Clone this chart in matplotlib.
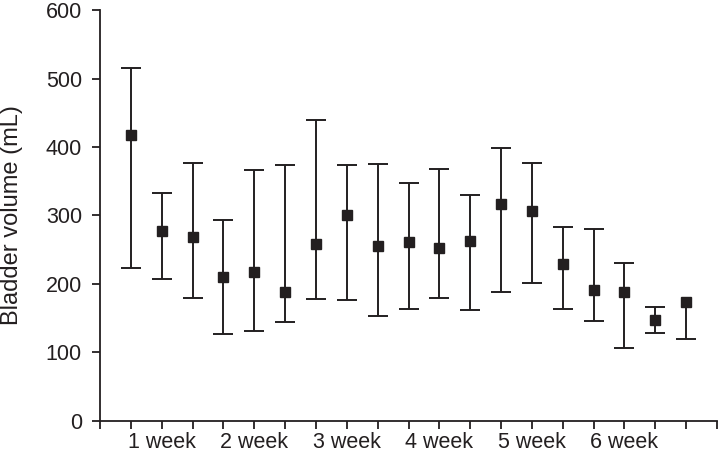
import numpy as np
import matplotlib.pyplot as plt

plt.rcParams['font.family'] = ['Liberation Sans', 'DejaVu Sans']

# bladder volume per measurement (mean, upper and lower whisker ends)
means = [418, 278, 269, 210, 218, 188, 259, 300, 255, 261,
         253, 263, 317, 307, 229, 191, 188, 148, 173]
upper = [515, 333, 377, 294, 367, 374, 440, 373, 375, 347,
         368, 330, 398, 377, 283, 280, 231, 167, 173]
lower = [224, 208, 180, 127, 131, 145, 178, 176, 154, 164,
         180, 162, 189, 202, 163, 146, 107, 128, 120]
week_labels = ['1 week', '2 week', '3 week', '4 week', '5 week', '6 week']
week_pos = [2, 5, 8, 11, 14, 17]

x = np.arange(1, len(means) + 1)
means = np.array(means)
upper = np.array(upper)
lower = np.array(lower)

col = '#231f20'
fig = plt.figure(figsize=(7.18, 4.57), dpi=100)
ax = fig.add_axes([0.1393, 0.0788, 0.8593, 0.8993])

# whiskers, caps (no upper cap where there is no upper whisker), markers
ax.vlines(x, lower, upper, color=col, lw=1.4)
ax.plot(x, lower, '_', color=col, ms=15, mew=1.4)
has_up = upper > means
ax.plot(x[has_up], upper[has_up], '_', color=col, ms=15, mew=1.4)
ax.plot(x, means, 's', color=col, ms=7.3)

ax.set_xlim(0, 20)
ax.set_ylim(0, 600)
ax.set_yticks(range(0, 601, 100))
ticks = list(range(0, 21))
labels = [week_labels[week_pos.index(t)] if t in week_pos else '' for t in ticks]
ax.set_xticks(ticks, labels=labels)
ax.tick_params(axis='x', direction='out', length=6, width=1.3, color=col,
               labelsize=15.5, labelcolor=col, pad=2)
ax.tick_params(axis='y', direction='out', length=6, width=1.3, color=col,
               labelsize=15.5, labelcolor=col, pad=7)

for s in ['top', 'right']:
    ax.spines[s].set_visible(False)
for s in ['left', 'bottom']:
    ax.spines[s].set_linewidth(1.3)
    ax.spines[s].set_color(col)

ax.set_ylabel('Bladder volume (mL)', fontsize=17, color=col)
ax.yaxis.set_label_coords(-0.125, 0.5)

fig.savefig('out.png', dpi=100)
